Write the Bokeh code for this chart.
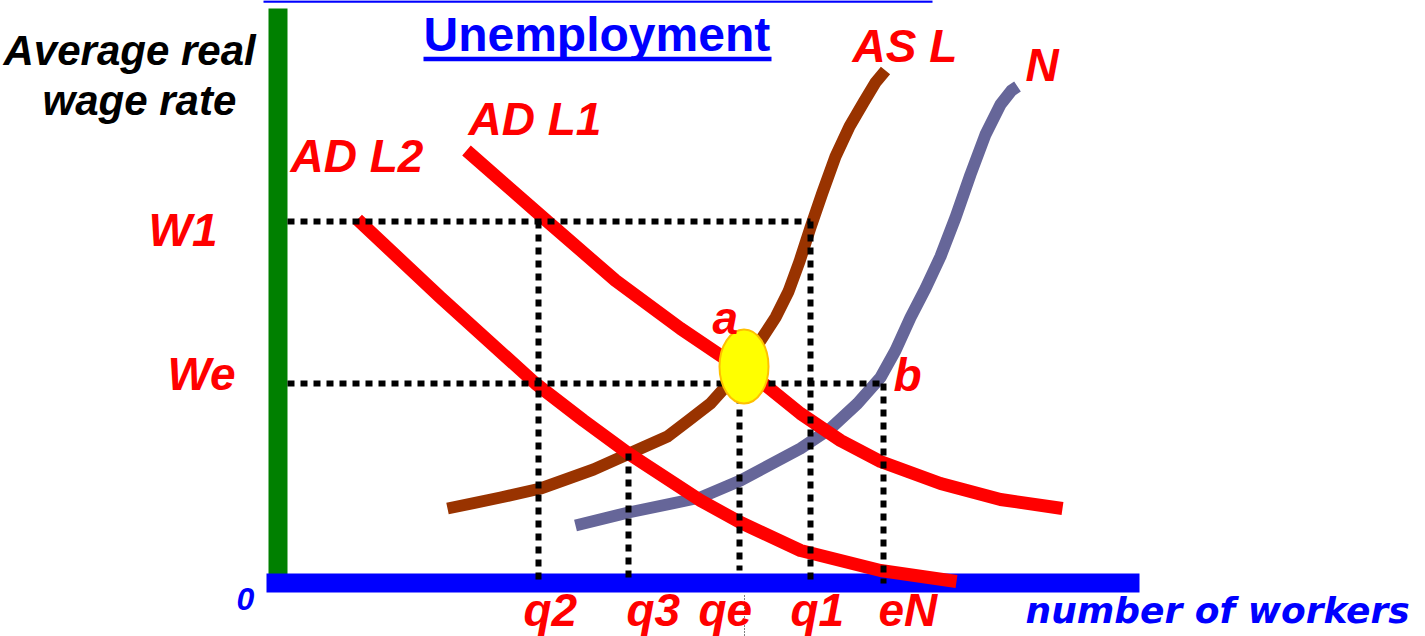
from bokeh.plotting import figure
from bokeh.models import Range1d
from bokeh.core.properties import value
from bokeh.embed import file_html
from bokeh.resources import INLINE

# ---- data (x: number of workers, y: average real wage rate) ----
adl1_x = [18.9, 27.0, 33.8, 40.3, 44.3, 48.6, 52.3, 56.3, 60.3, 66.3, 72.3, 78.5]
adl1_y = [43.2, 36.1, 30.2, 25.4, 22.7, 19.9, 16.9, 14.2, 12.1, 9.9, 8.3, 7.4]

adl2_x = [8.0, 16.3, 25.8, 30.6, 35.1, 42.3, 46.3, 52.3, 60.3, 67.9]
adl2_y = [36.3, 28.5, 19.9, 16.2, 12.9, 8.2, 6.0, 3.2, 1.2, 0.1]

asl_x = [17.0, 22.3, 26.3, 31.6, 36.3, 39.0, 41.1, 43.3, 45.1, 46.8, 48.3, 49.8,
         51.1, 52.2, 53.3, 54.5, 55.8, 57.2, 58.6, 59.8, 60.8]
asl_y = [7.4, 8.5, 9.4, 11.3, 13.4, 14.6, 16.2, 17.9, 19.9, 22.0, 24.2, 26.5,
         29.1, 32.1, 35.5, 39.0, 42.6, 45.6, 48.0, 50.0, 51.2]

n_x = [29.8, 35.1, 42.3, 46.3, 52.3, 55.3, 58.0, 60.3, 61.8, 63.3, 64.8, 66.3,
       67.8, 69.3, 70.8, 72.3, 73.4, 74.0]
n_y = [5.7, 7.0, 8.5, 10.2, 13.4, 15.4, 17.9, 20.5, 23.2, 26.5, 29.4, 32.6,
       36.5, 40.8, 44.8, 47.8, 49.2, 49.6]

wage_levels = {"W1": 36.1, "We": 19.9}
q_labels = ["q2", "q3", "qe", "q1", "eN"]
q_values = [26.1, 35.1, 46.2, 53.3, 60.6]
q_tops = [36.1, 12.9, 19.9, 36.1, 19.9]
q_bottoms = [-0.1, -0.1, 1.2, -0.1, -0.1]
eq_point = (46.65, 21.6)

# ---- figure ----
W, H = 1425, 636
p = figure(width=W, height=H, output_backend="svg", toolbar_location=None,
           x_range=Range1d(-27.7, 114.8), y_range=Range1d(-5.4, 58.2),
           min_border=0, outline_line_color=None, background_fill_color="white",
           border_fill_color="white")
p.axis.visible = False
p.grid.visible = False

FONT = value("Liberation Sans")

# top rule, axes bars
p.line([-1.4, 65.5], [58.1, 58.1], line_color="#0000FF", line_width=2.5)
p.quad(left=[-0.9], right=[1.0], bottom=[-0.8], top=[57.4], fill_color="#008000", line_color=None)
p.quad(left=[-1.1], right=[86.2], bottom=[-1.0], top=[0.9], fill_color="#0000FF", line_color=None)

# curves
p.line(asl_x, asl_y, line_color="#993300", line_width=12, line_join="round")
p.line(n_x, n_y, line_color="#666699", line_width=12, line_join="round")
p.line(adl1_x, adl1_y, line_color="#FF0000", line_width=13, line_join="round")
p.line(adl2_x, adl2_y, line_color="#FF0000", line_width=13, line_join="round")

# dotted guide lines
dot = dict(line_color="black", line_width=6, line_dash="7 6")
p.line([1.0, q_values[3]], [wage_levels["W1"]] * 2, **dot)
p.line([1.0, q_values[4]], [wage_levels["We"]] * 2, **dot)
for qv, top, bot in zip(q_values, q_tops, q_bottoms):
    p.line([qv, qv], [top, bot], **dot)
p.line([46.7, 46.7], [-1.3, -5.5], line_color="black", line_width=1, line_dash="1 2")

# equilibrium
p.ellipse(x=[eq_point[0]], y=[eq_point[1]], width=4.9, height=7.4,
          fill_color="#FFFF00", line_color="#FFC000", line_width=2)

# texts (y is the baseline; small correction for how the svg backend places it)
def label(x, y, t, color, size, font=FONT, style="bold italic"):
    y_adj = y + 0.037 * size
    p.text(x=[x], y=[y_adj], text=[t], text_color=color, text_font=font,
           text_font_size=f"{size}px", text_font_style=style,
           text_baseline="alphabetic", text_align="left")

label(14.6, 53.0, "Unemployment", "#0000FF", 48, style="bold")
p.line([14.6, 49.4], [52.35, 52.35], line_color="#0000FF", line_width=4.5)
label(-27.4, 51.6, "Average real", "black", 42)
label(-23.5, 46.6, "wage rate", "black", 42)

label(57.5, 51.9, "AS L", "#FF0000", 46)
label(74.8, 50.0, "N", "#FF0000", 46)
label(19.1, 44.6, "AD L1", "#FF0000", 46)
label(1.3, 40.9, "AD L2", "#FF0000", 46)
label(-12.9, wage_levels["W1"] - 2.6, "W1", "#FF0000", 46)
label(-11.0, wage_levels["We"] - 0.8, "We", "#FF0000", 46)
label(43.5, 24.7, "a", "#FF0000", 46)
label(61.6, 19.0, "b", "#FF0000", 46)

q_offsets = [-1.5, -0.2, -4.1, -2.0, -0.5]
for name, qv, off in zip(q_labels, q_values, q_offsets):
    label(qv + off, -4.5, name, "#FF0000", 46)

label(-4.1, -2.8, "0", "#0000FF", 32)
label(74.8, -4.1, "number of workers", "#0000FF", 36, font=value("DejaVu Sans"))

open("out.html", "w").write(file_html(p, INLINE))
